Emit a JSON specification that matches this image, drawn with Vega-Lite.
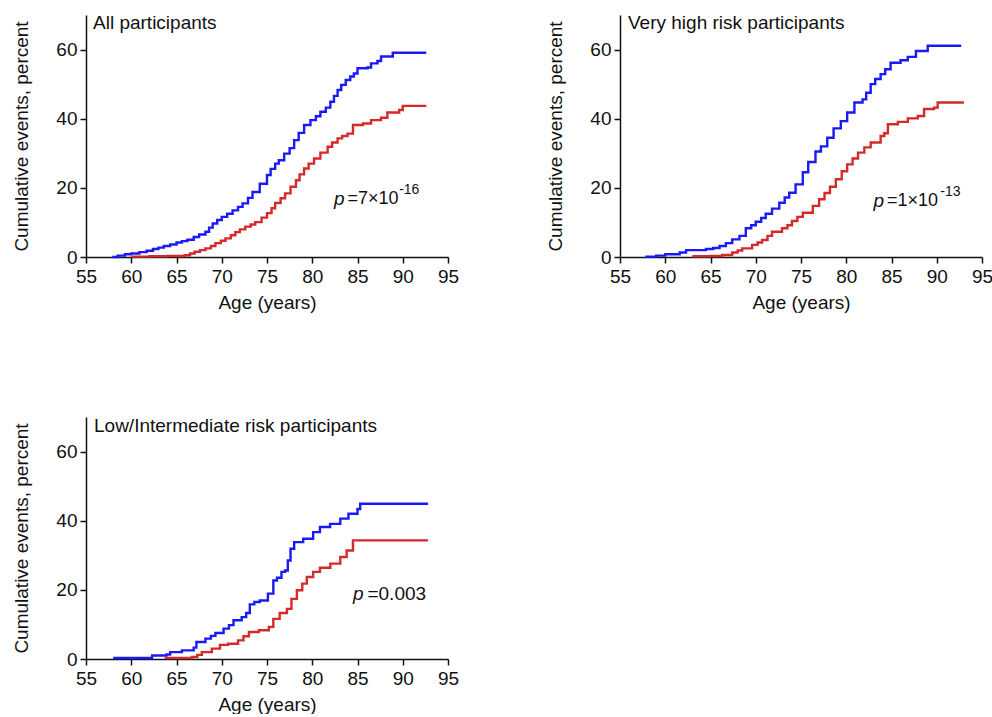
{
  "$schema": "https://vega.github.io/schema/vega-lite/v6.json",
  "padding": {"left": 12, "top": 14, "right": 0, "bottom": 0},
  "bounds": "flush",
  "columns": 2,
  "spacing": {"row": 160, "column": 172},
  "datasets": {
    "curves": [
      {"panel":"All","group":"A","age":57.9,"pct":0},{"panel":"All","group":"A","age":58.5,"pct":0.4},{"panel":"All","group":"A","age":59.3,"pct":0.8},{"panel":"All","group":"A","age":60,"pct":1.0},{"panel":"All","group":"A","age":60.9,"pct":1.4},{"panel":"All","group":"A","age":61.7,"pct":1.8},{"panel":"All","group":"A","age":62.4,"pct":2.3},{"panel":"All","group":"A","age":63,"pct":2.7},{"panel":"All","group":"A","age":63.6,"pct":3.2},{"panel":"All","group":"A","age":64.3,"pct":3.6},{"panel":"All","group":"A","age":65,"pct":4.2},{"panel":"All","group":"A","age":65.6,"pct":4.6},{"panel":"All","group":"A","age":66.2,"pct":5.0},{"panel":"All","group":"A","age":66.9,"pct":5.8},{"panel":"All","group":"A","age":67.5,"pct":6.5},{"panel":"All","group":"A","age":68.2,"pct":7.3},{"panel":"All","group":"A","age":68.6,"pct":8.5},{"panel":"All","group":"A","age":69,"pct":9.7},{"panel":"All","group":"A","age":69.5,"pct":10.7},{"panel":"All","group":"A","age":70,"pct":11.6},{"panel":"All","group":"A","age":70.6,"pct":12.5},{"panel":"All","group":"A","age":71.2,"pct":13.5},{"panel":"All","group":"A","age":71.8,"pct":14.5},{"panel":"All","group":"A","age":72.3,"pct":15.5},{"panel":"All","group":"A","age":72.9,"pct":17.1},{"panel":"All","group":"A","age":73.4,"pct":18.8},{"panel":"All","group":"A","age":74.2,"pct":21.2},{"panel":"All","group":"A","age":75,"pct":23.7},{"panel":"All","group":"A","age":75.4,"pct":25.5},{"panel":"All","group":"A","age":75.9,"pct":27.0},{"panel":"All","group":"A","age":76.3,"pct":28},{"panel":"All","group":"A","age":76.9,"pct":29.9},{"panel":"All","group":"A","age":77.5,"pct":31.5},{"panel":"All","group":"A","age":78,"pct":33.8},{"panel":"All","group":"A","age":78.5,"pct":35.9},{"panel":"All","group":"A","age":79.1,"pct":38.2},{"panel":"All","group":"A","age":79.8,"pct":39.6},{"panel":"All","group":"A","age":80.4,"pct":40.7},{"panel":"All","group":"A","age":80.9,"pct":42},{"panel":"All","group":"A","age":81.5,"pct":43.2},{"panel":"All","group":"A","age":82,"pct":44.9},{"panel":"All","group":"A","age":82.4,"pct":46.6},{"panel":"All","group":"A","age":82.8,"pct":48.3},{"panel":"All","group":"A","age":83.2,"pct":49.8},{"panel":"All","group":"A","age":83.7,"pct":51.2},{"panel":"All","group":"A","age":84.2,"pct":52.2},{"panel":"All","group":"A","age":84.6,"pct":53.1},{"panel":"All","group":"A","age":85,"pct":54.6},{"panel":"All","group":"A","age":86.1,"pct":54.8},{"panel":"All","group":"A","age":86.5,"pct":56},{"panel":"All","group":"A","age":87.2,"pct":56.7},{"panel":"All","group":"A","age":87.6,"pct":58},{"panel":"All","group":"A","age":88.9,"pct":59.1},{"panel":"All","group":"A","age":92.6,"pct":59.1},
      {"panel":"All","group":"B","age":60,"pct":0.1},{"panel":"All","group":"B","age":62,"pct":0.2},{"panel":"All","group":"B","age":64,"pct":0.3},{"panel":"All","group":"B","age":65.9,"pct":0.5},{"panel":"All","group":"B","age":66.5,"pct":1.0},{"panel":"All","group":"B","age":67,"pct":1.5},{"panel":"All","group":"B","age":67.6,"pct":2.0},{"panel":"All","group":"B","age":68.2,"pct":2.5},{"panel":"All","group":"B","age":68.8,"pct":3.2},{"panel":"All","group":"B","age":69.3,"pct":4.0},{"panel":"All","group":"B","age":69.9,"pct":4.7},{"panel":"All","group":"B","age":70.4,"pct":5.4},{"panel":"All","group":"B","age":71,"pct":6.3},{"panel":"All","group":"B","age":71.5,"pct":7.2},{"panel":"All","group":"B","age":72,"pct":8.0},{"panel":"All","group":"B","age":72.6,"pct":8.8},{"panel":"All","group":"B","age":73.2,"pct":9.4},{"panel":"All","group":"B","age":73.7,"pct":10.1},{"panel":"All","group":"B","age":74.4,"pct":11.4},{"panel":"All","group":"B","age":75,"pct":12.7},{"panel":"All","group":"B","age":75.5,"pct":14.1},{"panel":"All","group":"B","age":75.9,"pct":15.6},{"panel":"All","group":"B","age":76.5,"pct":17.0},{"panel":"All","group":"B","age":77,"pct":18.4},{"panel":"All","group":"B","age":77.6,"pct":20.3},{"panel":"All","group":"B","age":78.2,"pct":22.2},{"panel":"All","group":"B","age":78.6,"pct":23.9},{"panel":"All","group":"B","age":79.1,"pct":25.6},{"panel":"All","group":"B","age":79.6,"pct":27.0},{"panel":"All","group":"B","age":80.2,"pct":28.5},{"panel":"All","group":"B","age":80.9,"pct":30.2},{"panel":"All","group":"B","age":81.7,"pct":31.9},{"panel":"All","group":"B","age":82.2,"pct":33.1},{"panel":"All","group":"B","age":82.8,"pct":34.3},{"panel":"All","group":"B","age":83.3,"pct":35.0},{"panel":"All","group":"B","age":83.9,"pct":35.7},{"panel":"All","group":"B","age":84.5,"pct":38.2},{"panel":"All","group":"B","age":85.6,"pct":38.6},{"panel":"All","group":"B","age":86.5,"pct":39.6},{"panel":"All","group":"B","age":87.6,"pct":40.3},{"panel":"All","group":"B","age":88.3,"pct":41.8},{"panel":"All","group":"B","age":89.6,"pct":42.5},{"panel":"All","group":"B","age":90,"pct":43.7},{"panel":"All","group":"B","age":92.6,"pct":43.7},
      {"panel":"VH","group":"A","age":57.8,"pct":0.1},{"panel":"VH","group":"A","age":59,"pct":0.4},{"panel":"VH","group":"A","age":60,"pct":0.8},{"panel":"VH","group":"A","age":61.6,"pct":1.3},{"panel":"VH","group":"A","age":62.3,"pct":2.0},{"panel":"VH","group":"A","age":64.5,"pct":2.3},{"panel":"VH","group":"A","age":65.3,"pct":2.6},{"panel":"VH","group":"A","age":66,"pct":3.2},{"panel":"VH","group":"A","age":66.7,"pct":4.0},{"panel":"VH","group":"A","age":67.4,"pct":5.1},{"panel":"VH","group":"A","age":68.2,"pct":6.1},{"panel":"VH","group":"A","age":68.9,"pct":8.3},{"panel":"VH","group":"A","age":69.5,"pct":9.2},{"panel":"VH","group":"A","age":70,"pct":10.2},{"panel":"VH","group":"A","age":70.6,"pct":11.3},{"panel":"VH","group":"A","age":71.1,"pct":12.5},{"panel":"VH","group":"A","age":71.8,"pct":14.0},{"panel":"VH","group":"A","age":72.6,"pct":15.7},{"panel":"VH","group":"A","age":73.2,"pct":17.2},{"panel":"VH","group":"A","age":73.7,"pct":18.6},{"panel":"VH","group":"A","age":74.4,"pct":21.0},{"panel":"VH","group":"A","age":75.2,"pct":24.5},{"panel":"VH","group":"A","age":75.8,"pct":27.5},{"panel":"VH","group":"A","age":76.6,"pct":30.5},{"panel":"VH","group":"A","age":77.2,"pct":32.0},{"panel":"VH","group":"A","age":77.9,"pct":34.5},{"panel":"VH","group":"A","age":78.6,"pct":37.2},{"panel":"VH","group":"A","age":79.4,"pct":39.3},{"panel":"VH","group":"A","age":80.1,"pct":41.8},{"panel":"VH","group":"A","age":80.9,"pct":44.7},{"panel":"VH","group":"A","age":81.8,"pct":45.6},{"panel":"VH","group":"A","age":82.2,"pct":47.5},{"panel":"VH","group":"A","age":82.7,"pct":50},{"panel":"VH","group":"A","age":83.2,"pct":51.5},{"panel":"VH","group":"A","age":83.8,"pct":52.9},{"panel":"VH","group":"A","age":84.3,"pct":54.3},{"panel":"VH","group":"A","age":84.9,"pct":56.2},{"panel":"VH","group":"A","age":86,"pct":56.9},{"panel":"VH","group":"A","age":86.8,"pct":57.9},{"panel":"VH","group":"A","age":87.7,"pct":59.6},{"panel":"VH","group":"A","age":89,"pct":61.1},{"panel":"VH","group":"A","age":92.7,"pct":61.1},
      {"panel":"VH","group":"B","age":63,"pct":0.2},{"panel":"VH","group":"B","age":65,"pct":0.3},{"panel":"VH","group":"B","age":66.3,"pct":0.6},{"panel":"VH","group":"B","age":67.4,"pct":1.3},{"panel":"VH","group":"B","age":68,"pct":1.9},{"panel":"VH","group":"B","age":68.5,"pct":2.5},{"panel":"VH","group":"B","age":69.6,"pct":3.5},{"panel":"VH","group":"B","age":70.2,"pct":4.2},{"panel":"VH","group":"B","age":70.7,"pct":4.9},{"panel":"VH","group":"B","age":71.3,"pct":6.1},{"panel":"VH","group":"B","age":71.8,"pct":7.3},{"panel":"VH","group":"B","age":72.9,"pct":8.3},{"panel":"VH","group":"B","age":73.5,"pct":9.2},{"panel":"VH","group":"B","age":74,"pct":10.4},{"panel":"VH","group":"B","age":74.6,"pct":11.6},{"panel":"VH","group":"B","age":75.2,"pct":12.8},{"panel":"VH","group":"B","age":76.3,"pct":14.8},{"panel":"VH","group":"B","age":77,"pct":16.7},{"panel":"VH","group":"B","age":77.6,"pct":18.5},{"panel":"VH","group":"B","age":78.2,"pct":20.3},{"panel":"VH","group":"B","age":78.85,"pct":22.5},{"panel":"VH","group":"B","age":79.5,"pct":24.8},{"panel":"VH","group":"B","age":80.1,"pct":26.8},{"panel":"VH","group":"B","age":80.7,"pct":28.5},{"panel":"VH","group":"B","age":81.3,"pct":30.2},{"panel":"VH","group":"B","age":82,"pct":31.7},{"panel":"VH","group":"B","age":82.7,"pct":33.1},{"panel":"VH","group":"B","age":83.8,"pct":35},{"panel":"VH","group":"B","age":84.2,"pct":35.8},{"panel":"VH","group":"B","age":84.6,"pct":38.4},{"panel":"VH","group":"B","age":85.7,"pct":39.1},{"panel":"VH","group":"B","age":86.8,"pct":40.1},{"panel":"VH","group":"B","age":87.9,"pct":40.8},{"panel":"VH","group":"B","age":88.6,"pct":42.8},{"panel":"VH","group":"B","age":89.7,"pct":43.2},{"panel":"VH","group":"B","age":90.1,"pct":44.7},{"panel":"VH","group":"B","age":93,"pct":44.7},
      {"panel":"LI","group":"A","age":58,"pct":0.3},{"panel":"LI","group":"A","age":62.3,"pct":1.0},{"panel":"LI","group":"A","age":63.9,"pct":1.3},{"panel":"LI","group":"A","age":64.3,"pct":2.0},{"panel":"LI","group":"A","age":65.6,"pct":2.5},{"panel":"LI","group":"A","age":66.9,"pct":3.3},{"panel":"LI","group":"A","age":67.2,"pct":4.9},{"panel":"LI","group":"A","age":68.2,"pct":5.9},{"panel":"LI","group":"A","age":68.8,"pct":6.7},{"panel":"LI","group":"A","age":69.3,"pct":7.5},{"panel":"LI","group":"A","age":70.2,"pct":8.8},{"panel":"LI","group":"A","age":70.8,"pct":9.8},{"panel":"LI","group":"A","age":71.3,"pct":11.2},{"panel":"LI","group":"A","age":72.2,"pct":12.1},{"panel":"LI","group":"A","age":72.7,"pct":13.3},{"panel":"LI","group":"A","age":73.1,"pct":15.8},{"panel":"LI","group":"A","age":73.6,"pct":16.5},{"panel":"LI","group":"A","age":74.2,"pct":16.9},{"panel":"LI","group":"A","age":75.1,"pct":18.9},{"panel":"LI","group":"A","age":75.7,"pct":22.7},{"panel":"LI","group":"A","age":76.1,"pct":23.5},{"panel":"LI","group":"A","age":76.6,"pct":25.2},{"panel":"LI","group":"A","age":77,"pct":25.6},{"panel":"LI","group":"A","age":77.3,"pct":28.5},{"panel":"LI","group":"A","age":77.6,"pct":31.9},{"panel":"LI","group":"A","age":78,"pct":33.8},{"panel":"LI","group":"A","age":79,"pct":34.8},{"panel":"LI","group":"A","age":80.1,"pct":36.7},{"panel":"LI","group":"A","age":80.85,"pct":38.2},{"panel":"LI","group":"A","age":81.97,"pct":39.1},{"panel":"LI","group":"A","age":83.1,"pct":40.6},{"panel":"LI","group":"A","age":84,"pct":42},{"panel":"LI","group":"A","age":85,"pct":43.4},{"panel":"LI","group":"A","age":85.3,"pct":44.9},{"panel":"LI","group":"A","age":92.8,"pct":44.9},
      {"panel":"LI","group":"B","age":63.7,"pct":0.3},{"panel":"LI","group":"B","age":66.7,"pct":0.6},{"panel":"LI","group":"B","age":67.3,"pct":1.2},{"panel":"LI","group":"B","age":67.8,"pct":2.0},{"panel":"LI","group":"B","age":68.9,"pct":3.0},{"panel":"LI","group":"B","age":69.8,"pct":4.1},{"panel":"LI","group":"B","age":70.7,"pct":4.4},{"panel":"LI","group":"B","age":71.8,"pct":5.4},{"panel":"LI","group":"B","age":72.4,"pct":6.6},{"panel":"LI","group":"B","age":73,"pct":7.8},{"panel":"LI","group":"B","age":74.1,"pct":8.3},{"panel":"LI","group":"B","age":75.2,"pct":9.3},{"panel":"LI","group":"B","age":75.7,"pct":11.6},{"panel":"LI","group":"B","age":76.4,"pct":13.3},{"panel":"LI","group":"B","age":77.2,"pct":14.5},{"panel":"LI","group":"B","age":77.7,"pct":17.4},{"panel":"LI","group":"B","age":78.3,"pct":19.9},{"panel":"LI","group":"B","age":78.9,"pct":21.8},{"panel":"LI","group":"B","age":79.4,"pct":23.7},{"panel":"LI","group":"B","age":80.1,"pct":25.2},{"panel":"LI","group":"B","age":80.85,"pct":26.4},{"panel":"LI","group":"B","age":82,"pct":27.6},{"panel":"LI","group":"B","age":83.1,"pct":29.5},{"panel":"LI","group":"B","age":83.8,"pct":31.4},{"panel":"LI","group":"B","age":84.5,"pct":34.3},{"panel":"LI","group":"B","age":92.8,"pct":34.3}
    ]
  },
  "concat": [
    {
      "width": 362, "height": 242,
      "layer": [
        {"data": {"name": "curves"}, "transform": [{"filter": "datum.panel === 'All'"}],
         "mark": {"type": "line", "interpolate": "step-after", "strokeWidth": 2.4},
         "encoding": {
           "x": {"field": "age", "type": "quantitative", "scale": {"domain": [55, 95], "nice": false, "zero": false}, "axis": {"values": [55,60,65,70,75,80,85,90,95], "title": "Age (years)", "labelFlush": false}},
           "y": {"field": "pct", "type": "quantitative", "scale": {"domain": [0, 70], "nice": false}, "axis": {"values": [0,20,40,60], "title": "Cumulative events, percent"}},
           "color": {"field": "group", "type": "nominal", "scale": {"domain": ["A","B"], "range": ["#1a1af5", "#d42a2a"]}, "legend": null}}},
        {"data": {"values": [{}]}, "mark": {"type": "text", "text": "All participants", "align": "left", "baseline": "alphabetic", "dx": 7, "dy": 14, "fontSize": 19, "font": "Liberation Sans", "color": "#111"},
         "encoding": {"x": {"datum": 55}, "y": {"datum": 70}}},
        {"data": {"values": [{}]}, "mark": {"type": "text", "text": "p", "fontStyle": "italic", "align": "left", "baseline": "middle", "fontSize": 19, "font": "Liberation Sans", "color": "#111"},
         "encoding": {"x": {"datum": 82.4}, "y": {"datum": 16.9}}},
        {"data": {"values": [{}]}, "mark": {"type": "text", "text": "=7×10", "align": "left", "baseline": "middle", "fontSize": 18, "font": "Liberation Sans", "color": "#111"},
         "encoding": {"x": {"datum": 83.9}, "y": {"datum": 16.9}}},
        {"data": {"values": [{}]}, "mark": {"type": "text", "text": "-16", "align": "left", "baseline": "middle", "fontSize": 14, "font": "Liberation Sans", "color": "#111"},
         "encoding": {"x": {"datum": 89.6}, "y": {"datum": 19.4}}}
      ]
    },
    {
      "width": 362, "height": 242,
      "layer": [
        {"data": {"name": "curves"}, "transform": [{"filter": "datum.panel === 'VH'"}],
         "mark": {"type": "line", "interpolate": "step-after", "strokeWidth": 2.4},
         "encoding": {
           "x": {"field": "age", "type": "quantitative", "scale": {"domain": [55, 95], "nice": false, "zero": false}, "axis": {"values": [55,60,65,70,75,80,85,90,95], "title": "Age (years)", "labelFlush": false}},
           "y": {"field": "pct", "type": "quantitative", "scale": {"domain": [0, 70], "nice": false}, "axis": {"values": [0,20,40,60], "title": "Cumulative events, percent"}},
           "color": {"field": "group", "type": "nominal", "scale": {"domain": ["A","B"], "range": ["#1a1af5", "#d42a2a"]}, "legend": null}}},
        {"data": {"values": [{}]}, "mark": {"type": "text", "text": "Very high risk participants", "align": "left", "baseline": "alphabetic", "dx": 8, "dy": 14, "fontSize": 19, "font": "Liberation Sans", "color": "#111"},
         "encoding": {"x": {"datum": 55}, "y": {"datum": 70}}},
        {"data": {"values": [{}]}, "mark": {"type": "text", "text": "p", "fontStyle": "italic", "align": "left", "baseline": "middle", "fontSize": 19, "font": "Liberation Sans", "color": "#111"},
         "encoding": {"x": {"datum": 83.0}, "y": {"datum": 16.2}}},
        {"data": {"values": [{}]}, "mark": {"type": "text", "text": "=1×10", "align": "left", "baseline": "middle", "fontSize": 18, "font": "Liberation Sans", "color": "#111"},
         "encoding": {"x": {"datum": 84.5}, "y": {"datum": 16.2}}},
        {"data": {"values": [{}]}, "mark": {"type": "text", "text": "-13", "align": "left", "baseline": "middle", "fontSize": 14, "font": "Liberation Sans", "color": "#111"},
         "encoding": {"x": {"datum": 90.4}, "y": {"datum": 18.7}}}
      ]
    },
    {
      "width": 362, "height": 242,
      "layer": [
        {"data": {"name": "curves"}, "transform": [{"filter": "datum.panel === 'LI'"}],
         "mark": {"type": "line", "interpolate": "step-after", "strokeWidth": 2.4},
         "encoding": {
           "x": {"field": "age", "type": "quantitative", "scale": {"domain": [55, 95], "nice": false, "zero": false}, "axis": {"values": [55,60,65,70,75,80,85,90,95], "title": "Age (years)", "labelFlush": false}},
           "y": {"field": "pct", "type": "quantitative", "scale": {"domain": [0, 70], "nice": false}, "axis": {"values": [0,20,40,60], "title": "Cumulative events, percent"}},
           "color": {"field": "group", "type": "nominal", "scale": {"domain": ["A","B"], "range": ["#1a1af5", "#d42a2a"]}, "legend": null}}},
        {"data": {"values": [{}]}, "mark": {"type": "text", "text": "Low/Intermediate risk participants", "align": "left", "baseline": "alphabetic", "dx": 8, "dy": 15, "fontSize": 19, "font": "Liberation Sans", "color": "#111"},
         "encoding": {"x": {"datum": 55}, "y": {"datum": 70}}},
        {"data": {"values": [{}]}, "mark": {"type": "text", "text": "p", "fontStyle": "italic", "align": "left", "baseline": "middle", "fontSize": 19, "font": "Liberation Sans", "color": "#111"},
         "encoding": {"x": {"datum": 84.5}, "y": {"datum": 18.7}}},
        {"data": {"values": [{}]}, "mark": {"type": "text", "text": "=0.003", "align": "left", "baseline": "middle", "fontSize": 19, "font": "Liberation Sans", "color": "#111"},
         "encoding": {"x": {"datum": 86.1}, "y": {"datum": 18.7}}}
      ]
    }
  ],
  "config": {
    "view": {"stroke": null},
    "axis": {"domainColor": "#111", "domainWidth": 1.5, "tickColor": "#111", "tickWidth": 1.5, "tickSize": 6, "labelColor": "#111", "titleColor": "#111", "labelFont": "Liberation Sans", "titleFont": "Liberation Sans", "labelFontSize": 19, "titleFontSize": 19, "titleFontWeight": "normal", "grid": false},
    "axisX": {"labelPadding": 4, "titlePadding": 7},
    "axisY": {"labelPadding": 3, "titlePadding": 24}
  }
}
